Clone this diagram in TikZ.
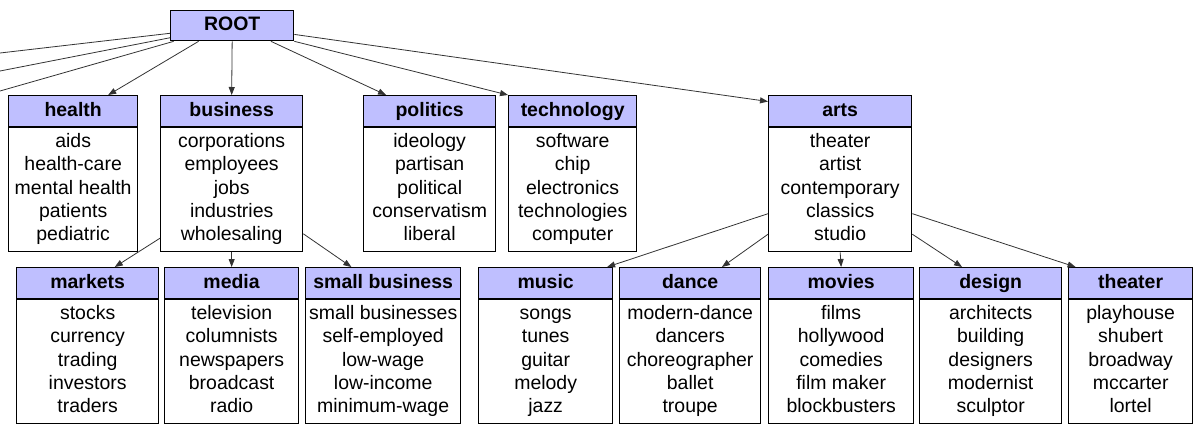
\documentclass[tikz,border=0pt]{standalone}
\usepackage{fontspec}
\setmainfont{Liberation Sans}
\usetikzlibrary{shapes.multipart}
\usetikzlibrary{arrows.meta}
\definecolor{hdrblue}{RGB}{191,191,255}
\newcommand{\catwords}[1]{\begin{tabular}{@{}c@{}}#1\end{tabular}}
\tikzset{
    catbox/.style = {rectangle split, rectangle split parts=2, draw=black, line width=1pt, rectangle split part fill={hdrblue,white}, anchor=north west, inner xsep=2pt, inner ysep=2.5pt},
    rootbox/.style = {rectangle, draw=black, line width=1pt, fill=hdrblue, anchor=north west, inner xsep=2pt, inner ysep=2.5pt},
    wd/.style = {minimum width=#1*0.75pt},
    edgea/.style = {-{Triangle[length=6pt,width=4.5pt]}, line width=0.6pt, black!80}, % to a child
    edgen/.style = {-, line width=0.6pt, black!80} % off the page
}

\begin{document}
\begin{tikzpicture}[x=0.75pt, y=-0.75pt, font=\fontsize{14.6}{17.5}\selectfont]
  \useasboundingbox (0,0) rectangle (1200,433);
  \node[rootbox, wd=123] (root) at (170,10) {\textbf{ROOT}\strut};
  % first level
  \node[catbox, wd=129] (health) at (8,95) {\textbf{health}\strut\nodepart{two}\catwords{aids\\health-care\\mental health\\patients\\pediatric}};
  \node[catbox, wd=142] (business) at (160,95) {\textbf{business}\strut\nodepart{two}\catwords{corporations\\employees\\jobs\\industries\\wholesaling}};
  \node[catbox, wd=132] (politics) at (363,95) {\textbf{politics}\strut\nodepart{two}\catwords{ideology\\partisan\\political\\conservatism\\liberal}};
  \node[catbox, wd=128] (technology) at (508,95) {\textbf{technology}\strut\nodepart{two}\catwords{software\\chip\\electronics\\technologies\\computer}};
  \node[catbox, wd=143] (arts) at (768,95) {\textbf{arts}\strut\nodepart{two}\catwords{theater\\artist\\contemporary\\classics\\studio}};
  % second level
  \node[catbox, wd=142] (markets) at (16,267) {\textbf{markets}\strut\nodepart{two}\catwords{stocks\\currency\\trading\\investors\\traders}};
  \node[catbox, wd=134] (media) at (164,267) {\textbf{media}\strut\nodepart{two}\catwords{television\\columnists\\newspapers\\broadcast\\radio}};
  \node[catbox, wd=155] (smallbiz) at (305,267) {\textbf{small business}\strut\nodepart{two}\catwords{small businesses\\self-employed\\low-wage\\low-income\\minimum-wage}};
  \node[catbox, wd=134] (music) at (478,267) {\textbf{music}\strut\nodepart{two}\catwords{songs\\tunes\\guitar\\melody\\jazz}};
  \node[catbox, wd=141] (dance) at (619,267) {\textbf{dance}\strut\nodepart{two}\catwords{modern-dance\\dancers\\choreographer\\ballet\\troupe}};
  \node[catbox, wd=145] (movies) at (768,267) {\textbf{movies}\strut\nodepart{two}\catwords{films\\hollywood\\comedies\\film maker\\blockbusters}};
  \node[catbox, wd=142] (design) at (919,267) {\textbf{design}\strut\nodepart{two}\catwords{architects\\building\\designers\\modernist\\sculptor}};
  \node[catbox, wd=124] (theater) at (1068,267) {\textbf{theater}\strut\nodepart{two}\catwords{playhouse\\shubert\\broadway\\mccarter\\lortel}};
  % edges leaving the page
  \coordinate (off1) at (0,53);
  \coordinate (off2) at (0,71);
  \coordinate (off3) at (0,91);
  \draw[edgen] (root.187) -- (off1);
  \draw[edgen] (root.191) -- (off2);
  \draw[edgen] (root.195) -- (off3);
  % root to first level
  \draw[edgea] (root.205) -- (health.66);
  \draw[edgea] (root.south) -- (business.north);
  \draw[edgea] (root.-22) -- (politics.119);
  \draw[edgea] (root.south east) -- (technology.north west);
  \draw[edgea] (root.-8) -- (arts.135);
  % business
  \draw[edgea] (business.222) -- (markets.71);
  \draw[edgea] (business.south) -- (media.north);
  \draw[edgea] (business.320) -- (smallbiz.112);
  % arts
  \draw[edgea] (arts.209) -- (music.52);
  \draw[edgea] (arts.220) -- (dance.68);
  \draw[edgea] (arts.south) -- (movies.north);
  \draw[edgea] (arts.320) -- (design.110);
  \draw[edgea] (arts.331) -- (theater.125);
\end{tikzpicture}
\end{document}
